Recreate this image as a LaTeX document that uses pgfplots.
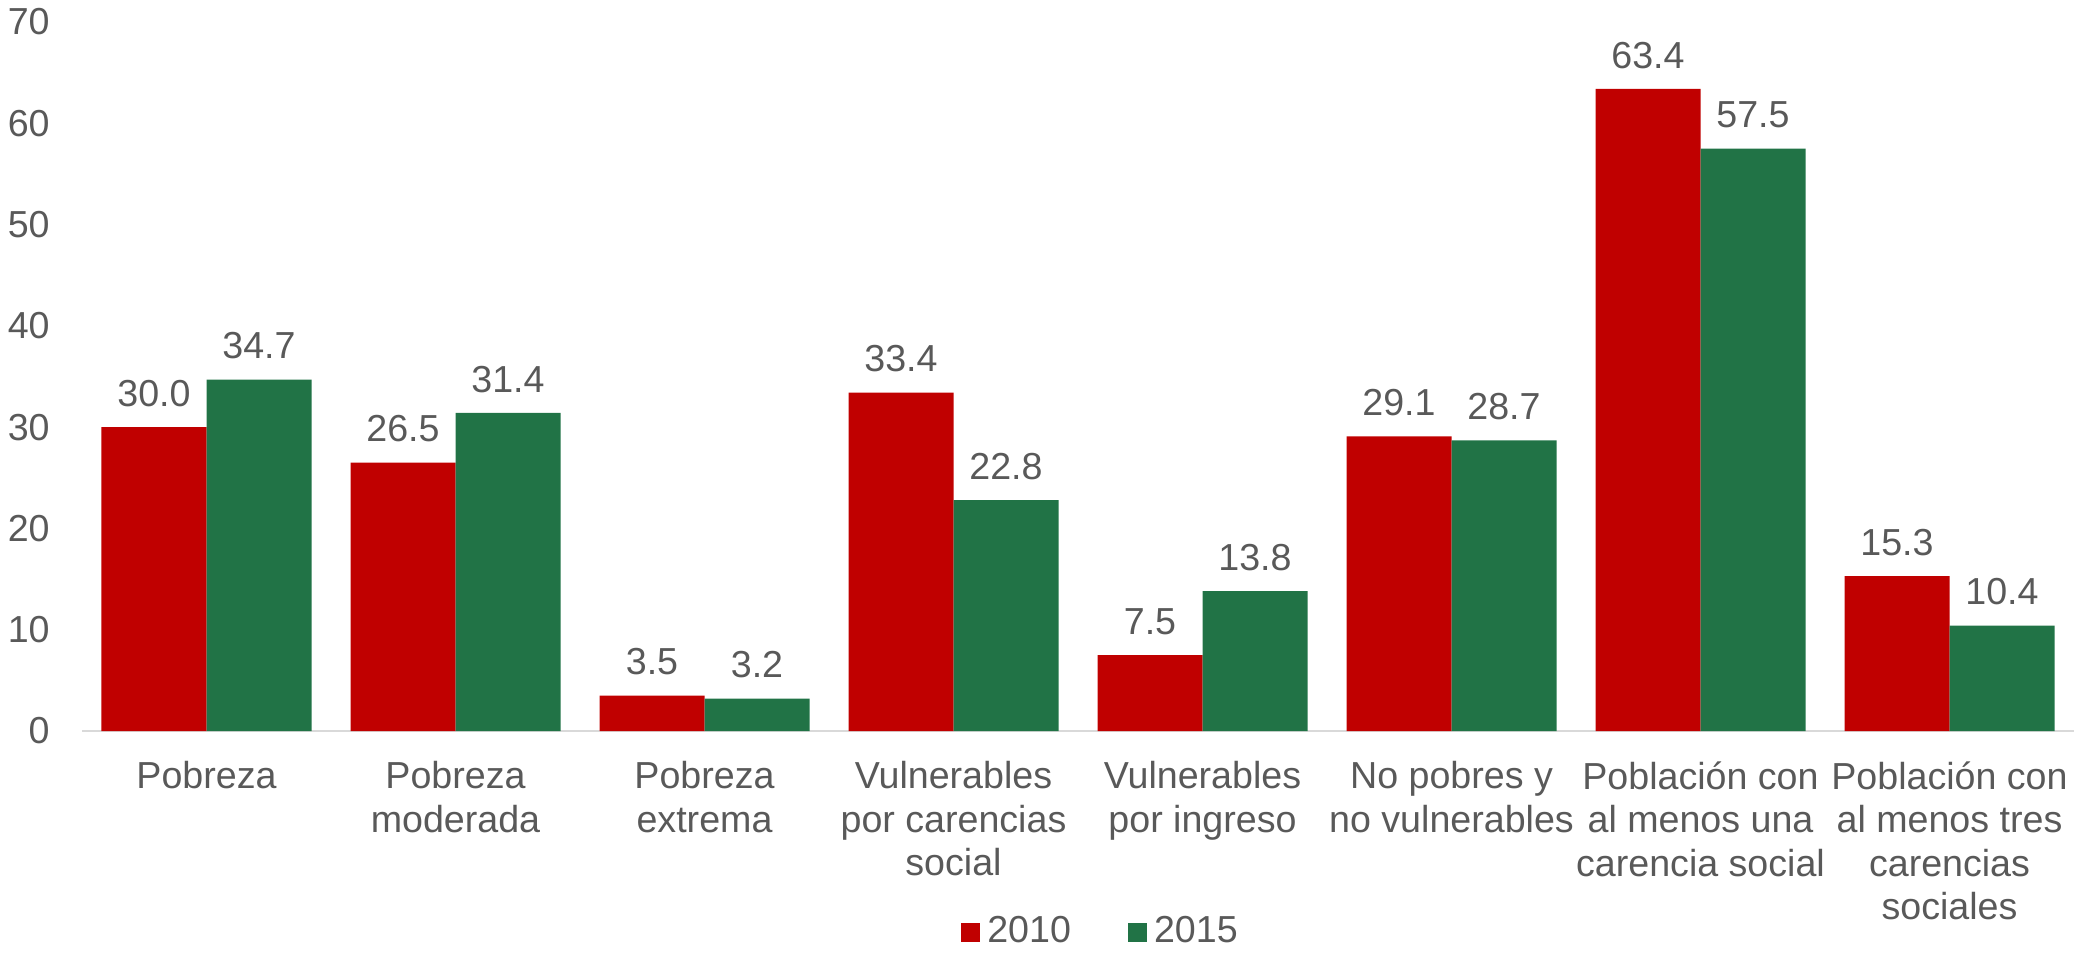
\documentclass[border=0pt]{standalone}
\usepackage{fontspec}
\setmainfont{Liberation Sans}
\usepackage{pgfplots}
\pgfplotsset{compat=1.18}
\definecolor{rojo}{HTML}{C00000}
\definecolor{verde}{HTML}{217346}
\definecolor{txt}{HTML}{595959}
\definecolor{eje}{HTML}{D9D9D9}
\newcommand{\fs}{\fontsize{10.7}{12.4}\selectfont}

\begin{document}
\begin{tikzpicture}
\begin{axis}[
    scale only axis,
    width=19.92cm, height=7.09cm,
    ybar=0pt, bar width=1.05cm,
    xmin=-0.5, xmax=7.5,
    ymin=0, ymax=70,
    ytick={0,10,...,70},
    xtick=data,
    xticklabels={Pobreza, {Pobreza\\moderada}, {Pobreza\\extrema},
      {Vulnerables\\por carencias\\social}, {Vulnerables\\por ingreso},
      {No pobres y\\no vulnerables}, {Población con\\al menos una\\carencia social},
      {Población con\\al menos tres\\carencias\\sociales}},
    axis x line*=bottom, axis y line*=left,
    x axis line style={-, draw=eje, line width=0.6pt},
    y axis line style={draw=none},
    major tick length=0pt,
    font=\fs,
    /pgf/number format/assume math mode=true,
    yticklabel style={text=txt, font=\fs, anchor=east, xshift=-0.2cm},
    xticklabel style={text=txt, font=\fs, align=center, anchor=north, yshift=-0.18cm},
    nodes near coords,
    nodes near coords style={text=txt, font=\fs, yshift=0.08cm, /pgf/number format/.cd, fixed, fixed zerofill, precision=1, assume math mode=true},
    legend style={at={(0.5,-0.2835)}, anchor=center, xshift=0.25cm, draw=none, fill=none,
      legend columns=2, font=\fs, text=txt,
      /tikz/every even column/.append style={column sep=0.5cm}},
    legend image code/.code={\fill[#1] (0cm,-0.095cm) rectangle (0.19cm,0.095cm);},
]
\addplot[fill=rojo, draw=none] coordinates {(0,30.0) (1,26.5) (2,3.5) (3,33.4) (4,7.5) (5,29.1) (6,63.4) (7,15.3)};
\addplot[fill=verde, draw=none] coordinates {(0,34.7) (1,31.4) (2,3.2) (3,22.8) (4,13.8) (5,28.7) (6,57.5) (7,10.4)};
\legend{2010,2015}
\coordinate (O) at (rel axis cs:0,0);
\end{axis}
\pgfresetboundingbox
\path ([shift={(-0.82cm,-2.27cm)}]O) rectangle ++(20.91cm,9.58cm);
\end{tikzpicture}
\end{document}
